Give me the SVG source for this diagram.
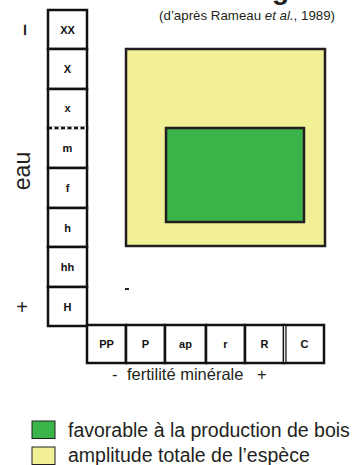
<svg xmlns="http://www.w3.org/2000/svg" width="355" height="465" viewBox="0 0 355 465">
<style>
.cell{fill:#fff;stroke:#111;stroke-width:2.5}
.lbl{font-family:"Liberation Sans",Arial,sans-serif;font-weight:bold;font-size:11px;fill:#111;text-anchor:middle}
.txt{font-family:"Liberation Sans",Arial,sans-serif;fill:#231f20}
</style>
<rect width="355" height="465" fill="#fff"/>
<text class="txt" x="272" y="-1" font-size="28" font-weight="bold">g</text>
<text class="txt" x="335" y="20" font-size="13.3" text-anchor="end">(d’après Rameau <tspan font-style="italic">et al.</tspan>, 1989)</text>
<g id="axis-eau">
<text class="txt" transform="translate(23 30) rotate(-90)" x="0" y="7" font-size="21" font-weight="bold" text-anchor="middle">–</text>
<text class="txt" transform="translate(30 171) rotate(-90)" font-size="23" text-anchor="middle">eau</text>
<text class="txt" x="22" y="314" font-size="20" text-anchor="middle">+</text>
</g>
<g id="column">
<rect class="cell" x="48" y="10" width="39" height="39"/>
<rect class="cell" x="48" y="49" width="39" height="40"/>
<rect class="cell" x="48" y="89" width="39" height="39"/>
<rect class="cell" x="48" y="128" width="39" height="40"/>
<rect class="cell" x="48" y="168" width="39" height="40"/>
<rect class="cell" x="48" y="208" width="39" height="39"/>
<rect class="cell" x="48" y="247" width="39" height="40"/>
<rect class="cell" x="48" y="287" width="39" height="39"/>
<line x1="49" y1="128" x2="86" y2="128" stroke="#fff" stroke-width="3"/>
<line x1="48" y1="128" x2="87" y2="128" stroke="#111" stroke-width="2.5" stroke-dasharray="4 2.5"/>
<text class="lbl" x="67.5" y="34">XX</text>
<text class="lbl" x="67.5" y="73">X</text>
<text class="lbl" x="67.5" y="112">x</text>
<text class="lbl" x="67.5" y="152">m</text>
<text class="lbl" x="67.5" y="192">f</text>
<text class="lbl" x="67.5" y="232">h</text>
<text class="lbl" x="67.5" y="271">hh</text>
<text class="lbl" x="67.5" y="311">H</text>
</g>
<g id="row">
<rect class="cell" x="87" y="325" width="39" height="38"/>
<rect class="cell" x="126" y="325" width="39" height="38"/>
<rect class="cell" x="165" y="325" width="41" height="38"/>
<rect class="cell" x="206" y="325" width="39" height="38"/>
<rect class="cell" x="245" y="325" width="39" height="38"/>
<rect x="284" y="325" width="40" height="38" fill="#fff" stroke="#111" stroke-width="2.5"/>
<line x1="284" y1="326" x2="284" y2="362" stroke="#fff" stroke-width="2.5"/>
<line x1="283.5" y1="325" x2="283.5" y2="363" stroke="#111" stroke-width="1.2"/>
<line x1="286" y1="325" x2="286" y2="363" stroke="#111" stroke-width="1.2"/>
<text class="lbl" x="106.5" y="348">PP</text>
<text class="lbl" x="145.5" y="348">P</text>
<text class="lbl" x="185.5" y="348">ap</text>
<text class="lbl" x="225.5" y="348">r</text>
<text class="lbl" x="264.5" y="348">R</text>
<text class="lbl" x="304.5" y="348">C</text>
</g>
<g id="axis-fertilite">
<text class="txt" x="112" y="380" font-size="16.5">-</text>
<text class="txt" x="127" y="380" font-size="16.5">fertilité minérale</text>
<text class="txt" x="257" y="380" font-size="16.5">+</text>
</g>
<g id="amplitude">
<rect x="126" y="49" width="199" height="197" fill="#f1f096" stroke="#231f20" stroke-width="2.5"/>
</g>
<g id="favorable">
<rect x="166" y="128" width="138" height="94" fill="#3bb44a" stroke="#231f20" stroke-width="2.5"/>
</g>
<rect x="125" y="288" width="4" height="2" fill="#231f20"/>
<g id="legend">
<rect x="32" y="421" width="23" height="17.5" fill="#3bb44a" stroke="#231f20" stroke-width="1"/>
<text class="txt" x="68" y="437" font-size="19.5">favorable à la production de bois</text>
<rect x="32" y="447" width="23" height="17.5" fill="#f1f096" stroke="#231f20" stroke-width="1"/>
<text class="txt" x="68" y="462" font-size="19.5">amplitude totale de l’espèce</text>
</g>
</svg>
